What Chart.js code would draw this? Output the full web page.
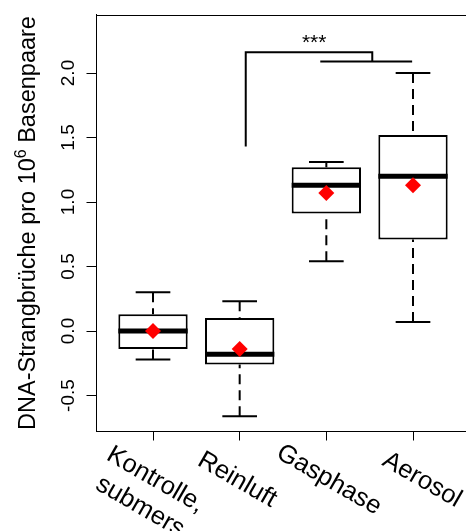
<!DOCTYPE html>
<html><head><meta charset="utf-8">
<script src="https://cdn.jsdelivr.net/npm/chart.js@4.4.0/dist/chart.umd.min.js"></script>
<style>html,body{margin:0;padding:0;background:#fff;}canvas{display:block;}</style>
</head><body>
<canvas id="c" width="466" height="531"></canvas>
<script>
// ---- data ----
const categories = [["Kontrolle,", "submers"], ["Reinluft"], ["Gasphase"], ["Aerosol"]];
const whiskerLow  = [-0.22, -0.66, 0.54, 0.07];
const q1          = [-0.14, -0.26, 0.91, 0.71];
const median      = [0.00, -0.18, 1.13, 1.20];
const q3          = [0.13, 0.10, 1.27, 1.52];
const whiskerHigh = [0.30, 0.23, 1.31, 2.00];
const means       = [0.00, -0.14, 1.07, 1.13];
const yTicks      = [-0.5, 0.0, 0.5, 1.0, 1.5, 2.0];
const xTicks      = [1, 2, 3, 4];
const bracketX    = [2.07, 2.07, 3.53, 3.53];
const bracketY    = [1.43, 2.16, 2.16, 2.09];
const subBracketX = [2.93, 3.99];
const subBracketY = [2.09, 2.09];
const sigLabel    = "***";
const sigPos      = [2.86, 2.185];
const yTitle      = ["DNA-Strangbrüche pro 10", "6", " Basenpaare"];

// ---- layout / style constants ----
const BOX_HALF = 0.4, CAP_HALF = 0.2;
const LABEL_NUDGE = [-1, -6, -1, 5.5];   // px nudges of the rotated category labels
function segs(list){
  const out = [];
  list.forEach(s => { out.push({x:s[0], y:s[1]}, {x:s[2], y:s[3]}, {x:s[2], y:null}); });
  return out;
}
const pos = categories.map((c,i)=>i+1);
const medianSegs = segs(pos.map((x,i)=>[x-BOX_HALF, median[i], x+BOX_HALF, median[i]]));
const whiskerSegs = segs(pos.flatMap((x,i)=>[[x, whiskerHigh[i], x, q3[i]], [x, whiskerLow[i], x, q1[i]]]));
const capSegs = segs(pos.flatMap((x,i)=>[[x-CAP_HALF, whiskerHigh[i], x+CAP_HALF, whiskerHigh[i]], [x-CAP_HALF, whiskerLow[i], x+CAP_HALF, whiskerLow[i]]]));

const FONT = '"Liberation Sans", Arial, Helvetica, sans-serif';

const lineDs = (data, extra) => Object.assign({
  type:'line', data, showLine:true, spanGaps:false, pointRadius:0, pointHoverRadius:0,
  borderColor:'#000', borderWidth:2, fill:false, tension:0, clip:false, borderCapStyle:'butt'
}, extra);

const textPlugin = {
  id:'texts',
  afterDraw(chart){
    const ctx = chart.ctx, xs = chart.scales.x, ys = chart.scales.y, ca = chart.chartArea;
    ctx.save();
    // top frame line
    ctx.strokeStyle = '#000'; ctx.lineWidth = 1;
    ctx.beginPath(); ctx.moveTo(ca.left, Math.round(ca.top)+0.5); ctx.lineTo(ca.right, Math.round(ca.top)+0.5); ctx.stroke();
    ctx.fillStyle = '#000';
    // y tick labels (rotated)
    ctx.font = '19px ' + FONT; ctx.textAlign = 'center'; ctx.textBaseline = 'alphabetic';
    yTicks.forEach(v => {
      const py = ys.getPixelForValue(v);
      ctx.save(); ctx.translate(73.5, py); ctx.rotate(-Math.PI/2); ctx.fillText(v.toFixed(1), 0, 0); ctx.restore();
    });
    // y title with superscript
    const big = '23.5px ' + FONT, small = '16px ' + FONT;
    ctx.font = big; const w1 = ctx.measureText(yTitle[0]).width; const w3 = ctx.measureText(yTitle[2]).width;
    ctx.font = small; const w2 = ctx.measureText(yTitle[1]).width;
    const total = w1 + w2 + w3;
    ctx.save(); ctx.translate(34.5, (ca.top + ca.bottom)/2); ctx.rotate(-Math.PI/2);
    ctx.textAlign = 'left';
    ctx.font = big; ctx.fillText(yTitle[0], -total/2, 0);
    ctx.font = small; ctx.fillText(yTitle[1], -total/2 + w1, -9);
    ctx.font = big; ctx.fillText(yTitle[2], -total/2 + w1 + w2, 0);
    ctx.restore();
    // x category labels (rotated 30deg)
    ctx.font = '25.5px ' + FONT; ctx.textAlign = 'center';
    categories.forEach((lines, i) => {
      const px = xs.getPixelForValue(xTicks[i]);
      ctx.save(); ctx.translate(px + LABEL_NUDGE[i], 486); ctx.rotate(Math.PI/6);
      lines.forEach((t, j) => ctx.fillText(t, 0, j*31));
      ctx.restore();
    });
    // significance stars
    ctx.font = '21px ' + FONT; ctx.textAlign = 'center';
    ctx.fillText(sigLabel, xs.getPixelForValue(sigPos[0]), ys.getPixelForValue(sigPos[1]));
    ctx.restore();
  }
};

new Chart(document.getElementById('c'), {
  type:'scatter',
  data:{
    datasets:[
      { type:'scatter', data: means.map((m,i)=>({x:pos[i], y:m})), pointStyle:'rectRot', pointRadius:8, pointHoverRadius:8,
        backgroundColor:'#ff0000', borderWidth:0, clip:false },
      lineDs(medianSegs, {borderWidth:5}),
      lineDs(capSegs, {borderWidth:2}),
      lineDs(whiskerSegs, {borderWidth:2, borderDash:[10,6]}),
      lineDs(bracketX.map((x,i)=>({x, y:bracketY[i]})), {borderWidth:2}),
      lineDs(subBracketX.map((x,i)=>({x, y:subBracketY[i]})), {borderWidth:2}),
      { type:'bar', data: pos.map((x,i)=>({x, y:[q1[i], q3[i]]})), backgroundColor:'#ffffff', borderColor:'#000',
        borderWidth:2, borderSkipped:false, categoryPercentage:1, barPercentage:0.8, grouped:false }
    ]
  },
  options:{
    responsive:false, animation:false, devicePixelRatio:1,
    layout:{ autoPadding:false, padding:{ top:14.5, left:0, right:0, bottom:0 } },
    plugins:{ legend:{display:false}, tooltip:{enabled:false}, title:{display:false} },
    scales:{
      x:{ type:'linear', min:0.348, max:4.6115, offset:false,
          afterBuildTicks(s){ s.ticks = xTicks.map(v=>({value:v})); },
          afterFit(s){ s.height = 99.5; s.paddingLeft = 0; s.paddingRight = 0; },
          ticks:{ display:false },
          grid:{ display:true, offset:false, drawOnChartArea:false, drawTicks:true, tickLength:9, color:'#000', tickColor:'#000', lineWidth:1 },
          border:{ display:true, color:'#000', width:1 } },
      y:{ type:'linear', min:-0.779, max:2.4535, offset:false,
          afterBuildTicks(s){ s.ticks = yTicks.map(v=>({value:v})); },
          afterFit(s){ s.width = 96.5; s.paddingTop = 0; s.paddingBottom = 0; },
          ticks:{ display:false },
          grid:{ display:true, offset:false, drawOnChartArea:false, drawTicks:true, tickLength:10, color:'#000', tickColor:'#000', lineWidth:1 },
          border:{ display:true, color:'#000', width:1 } }
    }
  },
  plugins:[textPlugin]
});
</script>
</body></html>
